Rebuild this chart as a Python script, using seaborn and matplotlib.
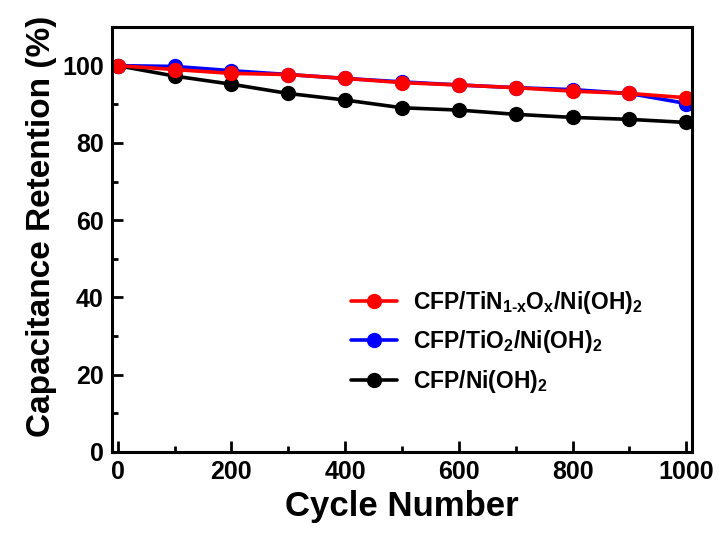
import numpy as np
import pandas as pd
import matplotlib
matplotlib.use("Agg")
import matplotlib.pyplot as plt
from matplotlib.ticker import MultipleLocator
import seaborn as sns

cycles = [0, 100, 200, 300, 400, 500, 600, 700, 800, 900, 1000]
tin_ox = [100, 99.0, 98.0, 97.7, 96.7, 95.6, 95.0, 94.3, 93.4, 92.8, 91.7]
tio2 = [100, 99.8, 98.7, 97.7, 96.7, 95.8, 95.0, 94.3, 93.8, 92.8, 90.2]
bare = [100, 97.3, 95.2, 92.8, 91.1, 89.1, 88.5, 87.4, 86.6, 86.1, 85.3]

labels = [r"CFP/TiN$_{\mathbf{1\text{-}x}}$O$_{\mathbf{x}}$/Ni(OH)$_{\mathbf{2}}$",
          r"CFP/TiO$_{\mathbf{2}}$/Ni(OH)$_{\mathbf{2}}$",
          r"CFP/Ni(OH)$_{\mathbf{2}}$"]
colors = ["#ff0000", "#0000ff", "#000000"]

df = pd.concat([
    pd.DataFrame({"cycle": cycles, "ret": tin_ox, "s": labels[0]}),
    pd.DataFrame({"cycle": cycles, "ret": tio2, "s": labels[1]}),
    pd.DataFrame({"cycle": cycles, "ret": bare, "s": labels[2]}),
])

sns.set_style("ticks")
plt.rcParams["font.family"] = ["Liberation Sans", "DejaVu Sans"]
plt.rcParams["font.weight"] = "bold"
for k in ["text.color", "axes.labelcolor", "xtick.color", "ytick.color", "axes.edgecolor"]:
    plt.rcParams[k] = "black"
plt.rcParams["mathtext.fontset"] = "custom"
plt.rcParams["mathtext.rm"] = "Liberation Sans:bold"
plt.rcParams["mathtext.bf"] = "Liberation Sans:bold"
plt.rcParams["mathtext.it"] = "Liberation Sans:bold"
plt.rcParams["mathtext.default"] = "bf"

fig = plt.figure(figsize=(7.19, 5.34), dpi=100)
ax = fig.add_axes([0.1558, 0.1536, 0.8066, 0.7958])

draw_order = [labels[2], labels[1], labels[0]]
pal = dict(zip(labels, colors))
sns.lineplot(data=df, x="cycle", y="ret", hue="s", hue_order=draw_order,
             palette=pal, marker="o", markersize=11, markeredgewidth=0,
             linewidth=2.6, ax=ax, legend=True)

ax.set_xlim(-10, 1010)
ax.set_ylim(0, 110)
ax.xaxis.set_major_locator(MultipleLocator(200))
ax.xaxis.set_minor_locator(MultipleLocator(100))
ax.yaxis.set_major_locator(MultipleLocator(20))
ax.yaxis.set_minor_locator(MultipleLocator(10))
ax.set_yticks([0, 20, 40, 60, 80, 100])
ax.tick_params(which="major", direction="in", length=8, width=2, labelsize=18, pad=6)
ax.tick_params(which="minor", direction="in", length=4, width=2)
for t in ax.get_xticklabels() + ax.get_yticklabels():
    t.set_fontweight("bold")
for sp in ax.spines.values():
    sp.set_linewidth(2.2)
    sp.set_visible(True)
    sp.set_color("black")

ax.set_xlabel("Cycle Number", fontsize=25, fontweight="bold", labelpad=4)
ax.set_ylabel("Capacitance Retention (%)", fontsize=24, fontweight="bold", labelpad=8)
ax.yaxis.set_label_coords(-0.095, 0.53)

handles, labs = ax.get_legend_handles_labels()
hmap = dict(zip(labs, handles))
leg = ax.legend([hmap[l] for l in labels], labels, loc="center left",
                bbox_to_anchor=(0.412, 0.259), frameon=False,
                handlelength=2.0, handletextpad=0.7, labelspacing=0.55,
                borderpad=0, borderaxespad=0,
                prop={"weight": "bold", "size": 16.5})

fig.savefig("out.png", dpi=100)
